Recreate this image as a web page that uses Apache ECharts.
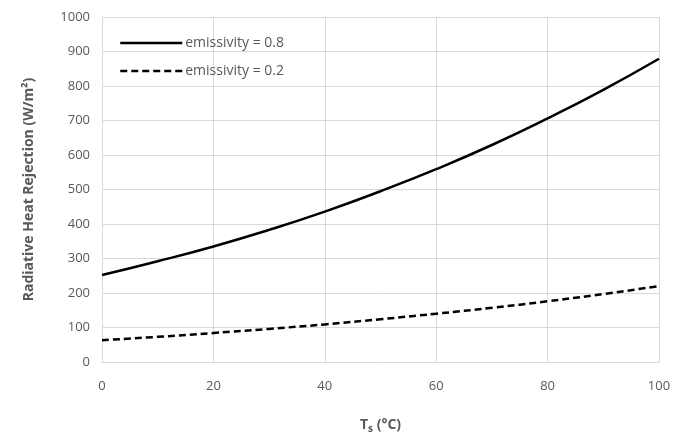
<!DOCTYPE html>
<html>
<head>
<meta charset="utf-8">
<script src="https://cdn.jsdelivr.net/npm/echarts@6/dist/echarts.min.js"></script>
<style>
  html, body { margin: 0; padding: 0; background: #fff; }
  #chart { width: 689px; height: 439px; }
</style>
</head>
<body>
<div id="chart"></div>
<script>
var temps = [0, 10, 20, 30, 40, 50, 60, 70, 80, 90, 100];
var highEmis = [252, 292, 335, 383, 436, 495, 559, 629, 706, 789, 879];
var lowEmis = [63, 73, 84, 96, 109, 124, 140, 157, 176, 197, 220];
var seriesNames = ['emissivity = 0.8', 'emissivity = 0.2'];

var dom = document.getElementById('chart');
var chart = echarts.init(dom);
var font = 'Open Sans';
var grey = '#595959';

function pairs(vals) {
  return temps.map(function (t, i) { return [t, vals[i]]; });
}

var option = {
  animation: false,
  textStyle: { fontFamily: font },
  grid: { left: 102, right: 30, top: 17, bottom: 77 },
  legend: {
    left: 114, top: 31, orient: 'vertical', itemGap: 14,
    itemWidth: 62, itemHeight: 14,
    itemStyle: { opacity: 0 },
    lineStyle: { width: 2.5 },
    textStyle: { fontFamily: font, fontSize: 14, color: grey, padding: [0, 0, 0, -2] },
    data: seriesNames
  },
  xAxis: {
    type: 'value', min: 0, max: 100, interval: 20,
    name: '{t|T}{s|s}{t| (°C)}',
    nameLocation: 'middle', nameGap: 54,
    nameTextStyle: {
      rich: {
        t: { fontFamily: font, fontSize: 14, fontWeight: 'bold', color: grey },
        s: { fontFamily: font, fontSize: 10, fontWeight: 'bold', color: grey, verticalAlign: 'bottom', padding: [8, 0, 0, 0] }
      }
    },
    axisLine: { lineStyle: { color: '#d9d9d9' } },
    axisTick: { show: false },
    axisLabel: { color: grey, fontSize: 13, margin: 18 },
    splitLine: { show: true, lineStyle: { color: '#d9d9d9' } }
  },
  yAxis: {
    type: 'value', min: 0, max: 1000, interval: 100,
    name: 'Radiative Heat Rejection (W/m²)',
    nameLocation: 'middle', nameGap: 66,
    nameTextStyle: { fontFamily: font, fontSize: 14, fontWeight: 'bold', color: grey },
    axisLine: { show: true, lineStyle: { color: '#d9d9d9' } },
    axisTick: { show: false },
    axisLabel: { color: grey, fontSize: 13, margin: 12, formatter: function (v) { return String(v); } },
    splitLine: { show: true, lineStyle: { color: '#d9d9d9' } }
  },
  series: [
    {
      name: seriesNames[0], type: 'line', smooth: true, symbol: 'none',
      data: pairs(highEmis),
      lineStyle: { color: '#000', width: 2.5 },
      itemStyle: { color: '#000' }
    },
    {
      name: seriesNames[1], type: 'line', smooth: true, symbol: 'none',
      data: pairs(lowEmis),
      lineStyle: { color: '#000', width: 2.5, type: [7, 4] },
      itemStyle: { color: '#000' }
    }
  ]
};

option && chart.setOption(option);
</script>
</body>
</html>
